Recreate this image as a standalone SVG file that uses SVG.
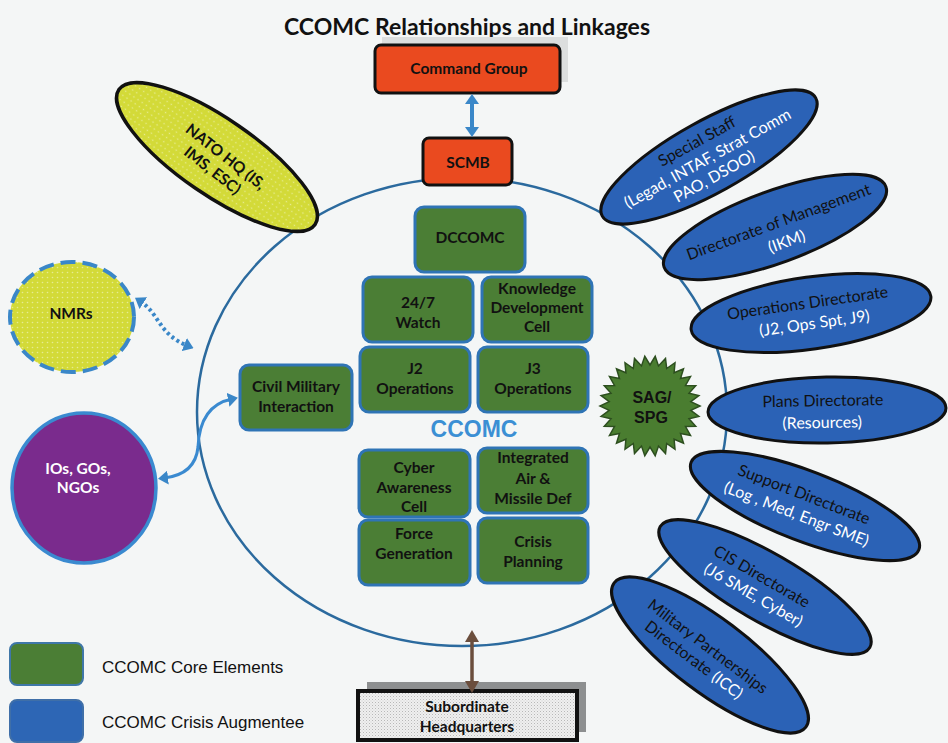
<svg xmlns="http://www.w3.org/2000/svg" width="948" height="743" viewBox="0 0 948 743">
  <defs>
    <style>
      .lbl { font-family: Lato, "Liberation Sans", sans-serif; font-weight: bold; font-size: 15.5px; fill: #111; text-anchor: middle; }
      .ell { font-family: Lato, "Liberation Sans", sans-serif; font-size: 16px; fill: #111; text-anchor: middle; }
      .wht { fill: #fff; }
      .core { fill: #4b7e35; stroke: #2f74b5; stroke-width: 3; }
      .aug { fill: #2b62b6; stroke: #111; stroke-width: 3; }
      .red { fill: #ea4a1f; stroke: #111; stroke-width: 3; }
      .legend { font-family: "Liberation Sans", Arial, sans-serif; font-size: 17px; fill: #111; }
    </style>
    <pattern id="dots" width="5" height="5" patternUnits="userSpaceOnUse">
      <rect width="5" height="5" fill="#d3da38"/>
      <circle cx="2.5" cy="2.5" r="0.8" fill="#ffffff" fill-opacity="0.45"/>
    </pattern>
    <pattern id="stipple" width="3" height="3" patternUnits="userSpaceOnUse">
      <rect width="3" height="3" fill="#efefef"/>
      <rect x="0" y="0" width="1" height="1" fill="#b8b8b8"/>
      <rect x="1.5" y="1.5" width="1" height="1" fill="#cfcfcf"/>
    </pattern>
    <marker id="headBlue" viewBox="0 0 10 14" markerWidth="10" markerHeight="14" refX="4" refY="7" orient="auto-start-reverse" markerUnits="userSpaceOnUse">
      <path d="M0,0 L10,7 L0,14 z" fill="#3a87c8"/>
    </marker>
    <marker id="headBrown" viewBox="0 0 12 14" markerWidth="12" markerHeight="14" refX="4" refY="7" orient="auto-start-reverse" markerUnits="userSpaceOnUse">
      <path d="M0,0 L12,7 L0,14 z" fill="#6b4e3d"/>
    </marker>
  </defs>

  <rect width="948" height="743" fill="#f4f6f6"/>

  <text x="467" y="35" font-family="Lato, 'Liberation Sans', sans-serif" font-weight="bold" font-size="23" fill="#111" text-anchor="middle" textLength="366">CCOMC Relationships and Linkages</text>

  <!-- boundary ring of the CCOMC -->
  <ellipse id="ring" cx="462" cy="412" rx="265" ry="234" fill="none" stroke="#2b6a9e" stroke-width="2.5"/>

  <g id="command-group">
    <rect x="382" y="37" width="186" height="45" fill="#dcdede"/>
    <rect x="375" y="45" width="185" height="48" rx="6" class="red"/>
    <text x="469" y="74" class="lbl" font-size="14">Command Group</text>
  </g>

  <g id="scmb">
    <rect x="423" y="138" width="89" height="47" rx="6" class="red"/>
    <text x="468" y="168" class="lbl" font-size="14">SCMB</text>
  </g>

  <g id="nato-hq">
    <ellipse cx="0" cy="0" rx="119" ry="38" transform="translate(217,157) rotate(34.5)" fill="url(#dots)" stroke="#111" stroke-width="3.5"/>
    <g transform="translate(218,160) rotate(38)">
      <text x="4" y="-2" class="lbl" font-size="14">NATO HQ (IS,</text>
      <text x="2" y="17" class="lbl" font-size="14">IMS, ESC)</text>
    </g>
  </g>

  <g id="nmrs">
    <ellipse cx="72" cy="317" rx="62" ry="55" fill="url(#dots)" stroke="#3a87c8" stroke-width="4" stroke-dasharray="15 7"/>
    <text x="71" y="319" class="lbl" font-size="15">NMRs</text>
  </g>

  <g id="ios-gos-ngos">
    <ellipse cx="84" cy="488" rx="72" ry="75" fill="#7a2b8d" stroke="#3a8ad0" stroke-width="3.5"/>
    <text x="78" y="474" class="lbl wht" font-size="15">IOs, GOs,</text>
    <text x="78" y="493" class="lbl wht" font-size="15">NGOs</text>
  </g>

  <g id="civil-military">
    <rect x="240" y="365" width="112" height="65" rx="9" class="core"/>
    <text x="296" y="392" class="lbl">Civil Military</text>
    <text x="296" y="412" class="lbl">Interaction</text>
  </g>

  <g id="dccomc">
    <rect x="415" y="207" width="110" height="65" rx="9" class="core"/>
    <text x="470" y="243" class="lbl">DCCOMC</text>
  </g>
  <g id="watch">
    <rect x="363" y="277" width="110" height="65" rx="9" class="core"/>
    <text x="418" y="308" class="lbl">24/7</text>
    <text x="418" y="328" class="lbl">Watch</text>
  </g>
  <g id="knowledge-development">
    <rect x="482" y="277" width="110" height="65" rx="9" class="core"/>
    <text x="537" y="294" class="lbl">Knowledge</text>
    <text x="537" y="313" class="lbl">Development</text>
    <text x="537" y="332" class="lbl">Cell</text>
  </g>
  <g id="j2-operations">
    <rect x="360" y="347" width="110" height="65" rx="9" class="core"/>
    <text x="415" y="374" class="lbl">J2</text>
    <text x="415" y="394" class="lbl">Operations</text>
  </g>
  <g id="j3-operations">
    <rect x="478" y="347" width="110" height="65" rx="9" class="core"/>
    <text x="533" y="374" class="lbl">J3</text>
    <text x="533" y="394" class="lbl">Operations</text>
  </g>

  <text x="474" y="437" font-family="'Liberation Sans', Arial, sans-serif" font-weight="bold" font-size="23" fill="#3b8fd4" text-anchor="middle">CCOMC</text>

  <g id="cyber-awareness">
    <rect x="359" y="450" width="111" height="67" rx="9" class="core"/>
    <text x="414" y="473" class="lbl">Cyber</text>
    <text x="414" y="493" class="lbl">Awareness</text>
    <text x="414" y="512" class="lbl">Cell</text>
  </g>
  <g id="air-missile-def">
    <rect x="478" y="448" width="110" height="65" rx="9" class="core"/>
    <text x="533" y="463" class="lbl">Integrated</text>
    <text x="533" y="484" class="lbl">Air &amp;</text>
    <text x="533" y="504" class="lbl">Missile Def</text>
  </g>
  <g id="force-generation">
    <rect x="359" y="520" width="111" height="65" rx="9" class="core"/>
    <text x="414" y="539" class="lbl">Force</text>
    <text x="414" y="559" class="lbl">Generation</text>
  </g>
  <g id="crisis-planning">
    <rect x="478" y="518" width="110" height="65" rx="9" class="core"/>
    <text x="533" y="547" class="lbl">Crisis</text>
    <text x="533" y="567" class="lbl">Planning</text>
  </g>

  <g id="sag-spg" transform="translate(650,406)">
    <polygon fill="#4a7d30" stroke="#2d4f1f" stroke-width="1.5" points="50,0 40.8,4.3 48.9,10.4 39,12.7 45.7,20.3 35.5,20.5 40.5,29.4 30.5,27.4 33.5,37.2 24.1,33.2 25,43.3 16.7,37.5 15.5,47.6 8.5,40.1 5.2,49.7 0,41 -5.2,49.7 -8.5,40.1 -15.5,47.6 -16.7,37.5 -25,43.3 -24.1,33.2 -33.5,37.2 -30.5,27.4 -40.5,29.4 -35.5,20.5 -45.7,20.3 -39,12.7 -48.9,10.4 -40.8,4.3 -50,0 -40.8,-4.3 -48.9,-10.4 -39,-12.7 -45.7,-20.3 -35.5,-20.5 -40.5,-29.4 -30.5,-27.4 -33.5,-37.2 -24.1,-33.2 -25,-43.3 -16.7,-37.5 -15.5,-47.6 -8.5,-40.1 -5.2,-49.7 0,-41 5.2,-49.7 8.5,-40.1 15.5,-47.6 16.7,-37.5 25,-43.3 24.1,-33.2 33.5,-37.2 30.5,-27.4 40.5,-29.4 35.5,-20.5 45.7,-20.3 39,-12.7 48.9,-10.4 40.8,-4.3"/>
    <text x="2" y="-3" font-family="'Liberation Sans', Arial, sans-serif" font-weight="bold" font-size="16" fill="#111" text-anchor="middle">SAG/</text>
    <text x="1" y="17" font-family="'Liberation Sans', Arial, sans-serif" font-weight="bold" font-size="16" fill="#111" text-anchor="middle">SPG</text>
  </g>

  <g id="special-staff" transform="translate(709,157) rotate(-29)">
    <ellipse rx="122" ry="36" class="aug"/>
    <text x="-3" y="-14" class="ell">Special Staff</text>
    <text x="-2" y="6" class="ell wht">(Legad, INTAF, Strat Comm</text>
    <text x="-5" y="25" class="ell wht">PAO, DSOO)</text>
  </g>
  <g id="directorate-management" transform="translate(775,227) rotate(-20)">
    <ellipse rx="118" ry="36" class="aug"/>
    <text x="5" y="2" class="ell">Directorate of Management</text>
    <text x="6" y="23" class="ell wht">(IKM)</text>
  </g>
  <g id="operations-directorate" transform="translate(811,313) rotate(-8)">
    <ellipse rx="121" ry="36" class="aug"/>
    <text x="-2" y="-5" class="ell">Operations Directorate</text>
    <text x="2" y="16" class="ell wht">(J2, Ops Spt, J9)</text>
  </g>
  <g id="plans-directorate" transform="translate(827,410) rotate(-1)">
    <ellipse rx="119" ry="33" class="aug"/>
    <text x="-4" y="-4" class="ell">Plans Directorate</text>
    <text x="-5" y="18" class="ell wht">(Resources)</text>
  </g>
  <g id="support-directorate" transform="translate(805,506) rotate(21)">
    <ellipse rx="122" ry="35" class="aug"/>
    <text x="-5" y="-5" class="ell">Support Directorate</text>
    <text x="-5" y="16" class="ell wht">(Log , Med, Engr SME)</text>
  </g>
  <g id="cis-directorate" transform="translate(765,587) rotate(30)">
    <ellipse rx="121" ry="34" class="aug"/>
    <text x="-8" y="-2" class="ell">CIS Directorate</text>
    <text x="-6" y="18" class="ell wht">(J6 SME, Cyber)</text>
  </g>
  <g id="military-partnerships" transform="translate(710,655) rotate(37)">
    <ellipse rx="120" ry="37" class="aug"/>
    <text x="-7" y="0" class="ell">Military Partnerships</text>
    <text x="-10" y="19" class="ell">Directorate <tspan class="wht">(ICC)</tspan></text>
  </g>

  <g id="subordinate-hq">
    <rect x="367" y="682" width="219" height="50" fill="#8d8f90"/>
    <rect x="358" y="691" width="219" height="49" fill="url(#stipple)" stroke="#111" stroke-width="4"/>
    <text x="467" y="712" class="lbl" font-size="15">Subordinate</text>
    <text x="467" y="732" class="lbl" font-size="15">Headquarters</text>
  </g>

  <!-- connectors -->
  <g id="connectors" fill="none">
    <line x1="472" y1="100" x2="472" y2="131" stroke="#3a87c8" stroke-width="4" marker-start="url(#headBlue)" marker-end="url(#headBlue)"/>
    <line x1="472" y1="638" x2="472" y2="685" stroke="#6b4e3d" stroke-width="3.5" marker-start="url(#headBrown)" marker-end="url(#headBrown)"/>
    <path d="M140,301 C160,314 158,334 188,346" stroke="#3a87c8" stroke-width="4" stroke-dasharray="3 3" marker-start="url(#headBlue)" marker-end="url(#headBlue)"/>
    <path d="M232,399 C207,404 199,424 198,447 C196,468 182,476 164,478" stroke="#3a8ad0" stroke-width="3" marker-start="url(#headBlue)" marker-end="url(#headBlue)"/>
  </g>

  <g id="legend">
    <rect x="10" y="643" width="73" height="42" rx="7" fill="#4b7e35" stroke="#3f77a8" stroke-width="2"/>
    <text x="102" y="673" class="legend">CCOMC Core Elements</text>
    <rect x="10" y="700" width="73" height="42" rx="7" fill="#2d66b5" stroke="#3f6fa8" stroke-width="2"/>
    <text x="102" y="728" class="legend">CCOMC Crisis Augmentee</text>
  </g>
</svg>
